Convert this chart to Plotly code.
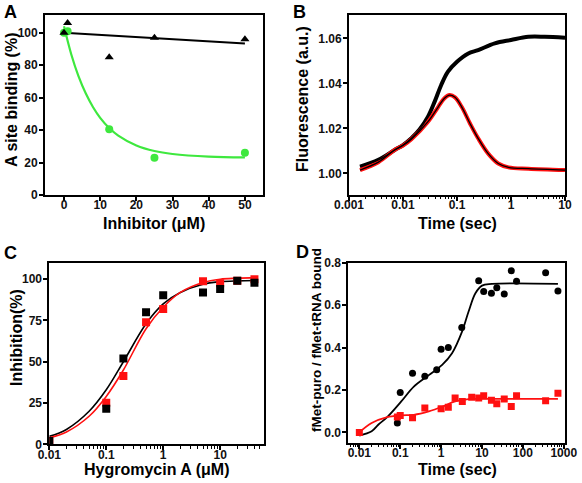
import plotly.graph_objects as go

W, H = 582, 483
FONT = "Liberation Sans, Arial, Helvetica, sans-serif"

# ---------------- Panel A ----------------
a_conc = [0, 1, 12.5, 25, 50]
a_black = [100, 106, 85, 97, 96]
a_green = [100, 101, 40.5, 23, 26]
a_black_fit_x = [0, 50]
a_black_fit_y = [100, 93.4]
a_green_fit_x = [0, 2, 4, 6, 8, 10, 12.5, 15, 20, 25, 30, 40, 50]
a_green_fit_y = [104, 86.8, 73.3, 62.7, 54.3, 47.6, 41.3, 36.6, 30.5, 27.1, 25.3, 23.7, 23.2]

# ---------------- Panel B ----------------
b_black_t = [0.0016, 0.0035, 0.007, 0.01, 0.0143, 0.0204, 0.029, 0.0386, 0.051,
             0.068, 0.1, 0.162, 0.246, 0.5, 1.0, 2.1, 4.2, 10]
b_black_f = [1.003, 1.006, 1.0104, 1.0126, 1.0156, 1.0196, 1.0252, 1.0319, 1.0393,
             1.0452, 1.0496, 1.0533, 1.0548, 1.0578, 1.0593, 1.0607, 1.0607, 1.0603]
b_red_t = [0.0016, 0.0035, 0.007, 0.01, 0.0143, 0.029, 0.045, 0.058, 0.073, 0.092,
           0.122, 0.174, 0.246, 0.375, 0.58, 0.9, 2.1, 10]
b_red_f = [1.0015, 1.005, 1.0104, 1.0124, 1.0152, 1.023, 1.0296, 1.0333, 1.0348, 1.0338,
           1.0296, 1.0222, 1.0156, 1.0089, 1.0044, 1.0027, 1.0021, 1.0015]

# ---------------- Panel C ----------------
c_conc_black = [0.01, 0.1, 0.2, 0.5, 1, 5, 10, 20, 40]
c_black = [2, 21.6, 52, 80, 90.3, 92, 94, 99, 97.8]
c_conc_red = [0.01, 0.1, 0.2, 0.5, 1, 5, 10, 20, 40]
c_red = [2, 25.2, 41.3, 74, 81.9, 98.8, 97.5, 99, 100]
c_fit_x = [0.01, 0.02, 0.05, 0.1, 0.2, 0.5, 1, 2, 5, 10, 20, 45]
c_black_fit = [4.8, 9, 20, 33, 50, 73, 85, 92, 97, 98.5, 99, 99.2]
c_red_fit = [4, 7.5, 17, 29, 45, 70, 83, 92, 98, 100, 100.6, 101]

# ---------------- Panel D ----------------
d_black_t = [0.085, 0.1, 0.2, 0.4, 0.78, 1.0, 1.5, 3.2, 8.3, 11, 17, 23, 35, 52, 70, 360, 720]
d_black = [0.044, 0.188, 0.279, 0.265, 0.295, 0.392, 0.40, 0.494, 0.715, 0.664, 0.656,
           0.682, 0.653, 0.762, 0.712, 0.753, 0.667]
d_red_t = [0.01, 0.085, 0.1, 0.2, 0.4, 1.0, 1.5, 2.2, 3.3, 5.6, 8.3, 11, 17, 23, 35, 52,
           70, 360, 720]
d_red = [0.0, 0.072, 0.08, 0.069, 0.115, 0.111, 0.118, 0.162, 0.146, 0.166, 0.162, 0.173,
         0.152, 0.135, 0.158, 0.122, 0.173, 0.149, 0.185]
d_black_fit_t = [0.01, 0.02, 0.029, 0.048, 0.106, 0.215, 0.5, 1.06, 1.85, 3.25, 4.7, 6.9,
                 10, 17.5, 720]
d_black_fit = [-0.015, 0.005, 0.036, 0.072, 0.146, 0.216, 0.27, 0.318, 0.373, 0.475, 0.57,
               0.656, 0.692, 0.70, 0.70]
d_red_fit_t = [0.01, 0.02, 0.048, 0.106, 0.215, 0.5, 1.1, 2.2, 4.7, 11, 720]
d_red_fit = [0.0, 0.044, 0.072, 0.08, 0.083, 0.099, 0.122, 0.146, 0.157, 0.158, 0.158]

GREEN = "#3ee83e"
RED = "#ff1010"

fig = go.Figure()

def line(x, y, color, width, xa, ya, shape="spline"):
    fig.add_trace(go.Scatter(x=x, y=y, mode="lines", xaxis=xa, yaxis=ya,
                             line=dict(color=color, width=width, shape=shape),
                             showlegend=False, hoverinfo="skip"))

def pts(x, y, color, symbol, size, xa, ya):
    fig.add_trace(go.Scatter(x=x, y=y, mode="markers", xaxis=xa, yaxis=ya,
                             marker=dict(color=color, symbol=symbol, size=size, line=dict(width=0)),
                             showlegend=False))

# A
line(a_black_fit_x, a_black_fit_y, "black", 2, "x", "y", "linear")
line(a_green_fit_x, a_green_fit_y, GREEN, 2.2, "x", "y")
pts(a_conc, a_green, GREEN, "circle", 8, "x", "y")
pts(a_conc, a_black, "black", "triangle-up", 8, "x", "y")

# B
line(b_black_t, b_black_f, "black", 4, "x2", "y2")
line(b_red_t, b_red_f, RED, 4, "x2", "y2")
line(b_black_t, b_black_f, "black", 1.2, "x2", "y2")
line(b_red_t, b_red_f, "black", 1.3, "x2", "y2")

# C
line(c_fit_x, c_black_fit, "black", 1.6, "x3", "y3")
line(c_fit_x, c_red_fit, RED, 1.6, "x3", "y3")
pts(c_conc_red, c_red, RED, "square", 8, "x3", "y3")
pts(c_conc_black, c_black, "black", "square", 8, "x3", "y3")

# D
line(d_black_fit_t, d_black_fit, "black", 1.8, "x4", "y4")
line(d_red_fit_t, d_red_fit, RED, 1.8, "x4", "y4")
pts(d_black_t, d_black, "black", "circle", 7, "x4", "y4")
pts(d_red_t, d_red, RED, "square", 7, "x4", "y4")

def px_dom(a, b, total):
    return [a / total, b / total]

def py_dom(top, bottom):
    return [1 - bottom / H, 1 - top / H]

tickfont = dict(family=FONT, size=12, color="#111", weight="bold")
common = dict(showline=True, linecolor="black", linewidth=1.8, mirror=True,
              ticks="outside", ticklen=4, tickwidth=1.5, tickcolor="black",
              showgrid=False, zeroline=False, tickfont=tickfont, automargin=False)
xcommon = dict(common, ticklabelstandoff=-6)
ycommon = dict(common, ticklabelstandoff=-1)
minor = dict(ticks="outside", ticklen=2.5, tickwidth=1, tickcolor="black",
             dtick="D1", showgrid=False)

fig.update_layout(
    width=W, height=H, autosize=False,
    margin=dict(l=0, r=0, t=0, b=0, pad=0, autoexpand=False),
    paper_bgcolor="white", plot_bgcolor="white",
    xaxis=dict(domain=px_dom(45, 263, W), anchor="y", range=[-5.25, 55],
               tickvals=[0, 10, 20, 30, 40, 50], **xcommon),
    yaxis=dict(domain=py_dom(15, 195), anchor="x", range=[0, 111],
               tickvals=[0, 20, 40, 60, 80, 100], **ycommon),
    xaxis2=dict(domain=px_dom(349, 565, W), anchor="y2", type="log", range=[-3, 1],
                tickvals=[0.001, 0.01, 0.1, 1, 10],
                ticktext=["0.001", "0.01", "0.1", "1", "10"], minor=minor, **xcommon),
    yaxis2=dict(domain=py_dom(15, 195), anchor="x2", range=[0.9904, 1.0704],
                tickvals=[1.00, 1.02, 1.04, 1.06],
                ticktext=["1.00", "1.02", "1.04", "1.06"], **ycommon),
    xaxis3=dict(domain=px_dom(49.3, 264, W), anchor="y3", type="log", range=[-2, 1.77],
                tickvals=[0.01, 0.1, 1, 10], ticktext=["0.01", "0.1", "1", "10"],
                minor=minor, **xcommon),
    yaxis3=dict(domain=py_dom(262.7, 444.3), anchor="x3", range=[0, 110],
                tickvals=[0, 25, 50, 75, 100], **ycommon),
    xaxis4=dict(domain=px_dom(348.3, 565, W), anchor="y4", type="log", range=[-2.27, 3.03],
                tickvals=[0.01, 0.1, 1, 10, 100, 1000],
                ticktext=["0.01", "0.1", "1", "10", "100", "1000"], minor=minor, **xcommon),
    yaxis4=dict(domain=py_dom(262.7, 443), anchor="x4", range=[-0.05, 0.8],
                tickvals=[0.0, 0.2, 0.4, 0.6, 0.8],
                ticktext=["0.0", "0.2", "0.4", "0.6", "0.8"], **ycommon),
)

def ann(text, x, y, size=16, angle=0):
    fig.add_annotation(text=text, x=x / W, y=1 - y / H, xref="paper", yref="paper",
                       showarrow=False, textangle=angle, xanchor="center", yanchor="middle",
                       borderpad=0,
                       font=dict(family=FONT, size=size, color="black", weight="bold"))

# panel letters
ann("A", 10, 12, 18)
ann("B", 300, 12, 18)
ann("C", 10, 253, 18)
ann("D", 302, 252, 18)
# axis titles
ann("A site binding (%)", 12, 100, 16, -90)
ann("Inhibitor (\u03bcM)", 154, 223, 16)
ann("Fluorescence (a.u.)", 302, 99, 16, -90)
ann("Time (sec)", 457, 223, 16)
ann("Inhibition(%)", 16, 338, 16, -90)
ann("Hygromycin A (\u03bcM)", 157, 469, 16)
ann("fMet-puro / fMet-tRNA bound", 316, 340, 13.5, -90)
ann("Time (sec)", 457, 469, 16)

fig.write_html(
    "out.html",
    config={"displayModeBar": False},
    post_script="document.body.style.margin='0';document.body.style.overflow='hidden';",
)
